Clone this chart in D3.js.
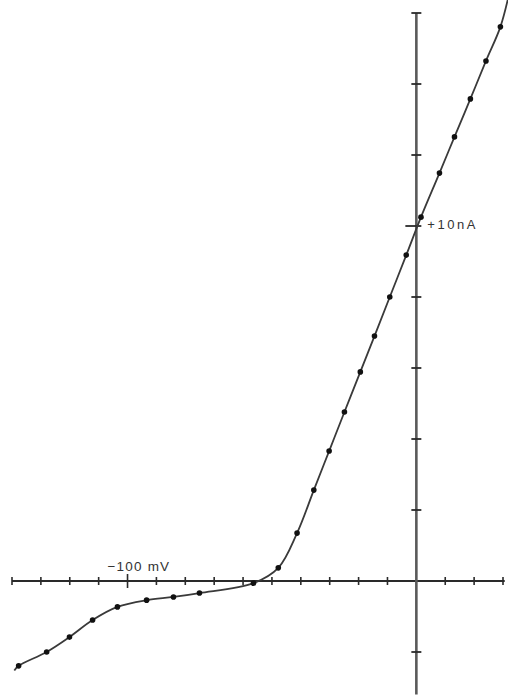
<!DOCTYPE html>
<html>
<head>
<meta charset="utf-8">
<script src="https://cdn.jsdelivr.net/npm/d3@7"></script>
<style>
  html, body { margin: 0; padding: 0; background: #fff; }
  svg { display: block; }
</style>
</head>
<body>
<div id="chart"></div>
<script>
// I-V curve: membrane potential (mV) vs current (nA)
var voltage = [-137.7, -128.0, -120.1, -112.1, -103.5, -93.4, -84.1, -75.1, -56.4,
               -47.8, -41.3, -35.5, -30.2, -24.9, -19.4, -14.5, -9.2, -3.5,
               1.6, 8.0, 13.2, 18.7, 24.1, 29.1];
var current = [-2.39, -2.00, -1.58, -1.10, -0.73, -0.54, -0.45, -0.34, -0.06,
               0.37, 1.35, 2.56, 3.66, 4.76, 5.89, 6.90, 8.00, 9.18,
               10.25, 11.49, 12.51, 13.58, 14.65, 15.61];

// pen trace runs a little past the first and last measured points
var traceStart = [-139.2, -2.52];
var traceEnd = [32.0, 16.5];

var xTicks = [-140, -130, -120, -110, -100, -90, -80, -70, -60, -50, -40, -30, -20, -10, 10, 20, 30];
var yTicks = [-2, 2, 4, 6, 8, 10, 12, 14, 16];
var xLabel = '\u2212100 mV', xLabelAt = -100;
var yLabel = '+10nA', yLabelAt = 10;

var W = 508, H = 696;
var ink = '#2a2a2a';

var svg = d3.select('#chart').append('svg')
  .attr('width', W).attr('height', H);

var x = d3.scaleLinear().domain([-140, 30]).range([12, 503]);
var y = d3.scaleLinear().domain([0, 16]).range([581, 13]);

// Horizontal (voltage) axis
svg.append('line')
  .attr('x1', x(-140)).attr('x2', x(30.6))
  .attr('y1', y(0)).attr('y2', y(0))
  .attr('stroke', ink).attr('stroke-width', 2);

xTicks.forEach(function(t) {
  var h = t === xLabelAt ? 7 : 4;
  svg.append('line')
    .attr('x1', x(t)).attr('x2', x(t))
    .attr('y1', y(0) - h).attr('y2', y(0) + h)
    .attr('stroke', ink).attr('stroke-width', 1.6);
});

// Vertical (current) axis
svg.append('line')
  .attr('x1', x(0)).attr('x2', x(0))
  .attr('y1', y(16)).attr('y2', y(-3.2))
  .attr('stroke', '#5a5a5a').attr('stroke-width', 2.6);

yTicks.forEach(function(t) {
  var left = t === yLabelAt ? 11 : 5, right = 5;
  svg.append('line')
    .attr('x1', x(0) - left).attr('x2', x(0) + right)
    .attr('y1', y(t)).attr('y2', y(t))
    .attr('stroke', ink).attr('stroke-width', 1.8);
});

// Labels
svg.append('text')
  .attr('x', x(xLabelAt) - 20).attr('y', y(0) - 10)
  .attr('font-family', 'Liberation Sans, Arial, sans-serif')
  .attr('font-size', 13.5)
  .attr('fill', '#333')
  .attr('letter-spacing', 1.2)
  .text(xLabel);

svg.append('text')
  .attr('x', x(0) + 11).attr('y', y(yLabelAt))
  .attr('dominant-baseline', 'middle')
  .attr('font-family', 'Liberation Sans, Arial, sans-serif')
  .attr('font-size', 13)
  .attr('fill', '#333')
  .attr('letter-spacing', 2.5)
  .text(yLabel);

// Smooth trace through the points
var pts = voltage.map(function(v, i) { return [v, current[i]]; });
var trace = [traceStart].concat(pts, [traceEnd]);

var line = d3.line()
  .x(function(d) { return x(d[0]); })
  .y(function(d) { return y(d[1]); })
  .curve(d3.curveCatmullRom.alpha(0.5));

svg.append('path')
  .attr('d', line(trace))
  .attr('fill', 'none')
  .attr('stroke', '#3a3a3a')
  .attr('stroke-width', 1.8);

// Measured points
svg.selectAll('circle.pt')
  .data(pts)
  .enter().append('circle')
  .attr('class', 'pt')
  .attr('cx', function(d) { return x(d[0]); })
  .attr('cy', function(d) { return y(d[1]); })
  .attr('r', 2.8)
  .attr('fill', '#111');
</script>
</body>
</html>
